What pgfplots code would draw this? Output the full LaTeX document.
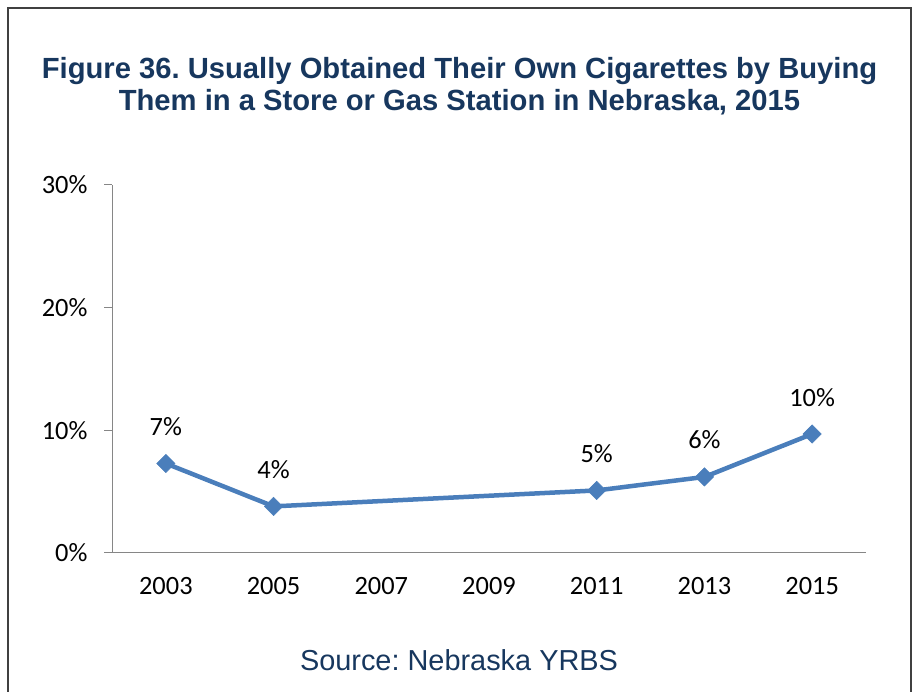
\documentclass[border=0pt]{standalone}
\usepackage{pgfplots}
\pgfplotsset{compat=1.18}
\usepackage{fontspec}
\setmainfont{Carlito}
\newfontfamily\arial{Liberation Sans}
\definecolor{titleblue}{HTML}{17375E}
\definecolor{lineblue}{HTML}{4A7EBB}
\definecolor{axgray}{HTML}{868686}
\frenchspacing
\begin{document}
\begin{tikzpicture}[x=1bp,y=1bp]
\path[use as bounding box] (0,0) rectangle (919,692);
\draw[line width=2bp, black!75] (8,0) -- (8,684) -- (911,684) -- (911,0);
\node[font=\arial\bfseries\fontsize{29.3}{32.5}\selectfont, text=titleblue, align=center] at (459.5,606) {Figure 36. Usually Obtained Their Own Cigarettes by Buying\\Them in a Store or Gas Station in Nebraska, 2015};
\node[font=\arial\fontsize{29}{33}\selectfont, text=titleblue] at (459,32) {Source: Nebraska YRBS};
\begin{axis}[
  at={(112bp,139bp)}, anchor=south west,
  scale only axis, width=754bp, height=368bp,
  xmin=-0.5, xmax=6.5, ymin=0, ymax=30,
  axis lines=left,
  axis line style={-, draw=axgray, line width=1bp},
  xtick={0,1,2,3,4,5,6},
  xticklabels={2003,2005,2007,2009,2011,2013,2015},
  x tick style={draw=none},
  ytick={0,10,20,30},
  yticklabels={0\%,10\%,20\%,30\%},
  y tick style={draw=axgray, line width=1bp},
  tick align=outside, major tick length=8bp,
  ticklabel style={font=\fontsize{26.5}{29}\selectfont, text=black},
  xticklabel style={yshift=-13bp},
  yticklabel style={xshift=-13bp},
  clip=false,
]
\addplot[color=lineblue, line width=4.5bp, mark=square*,
  mark options={rotate=45, solid, fill=lineblue, draw=lineblue, line width=0.5bp},
  mark size=6.5bp,
  point meta=explicit symbolic,
  nodes near coords,
  every node near coord/.append style={anchor=base, yshift=28bp, font=\fontsize{26.5}{29}\selectfont, text=black},
] coordinates {
  (0,7.3) [7\%]
  (1,3.8) [4\%]
  (4,5.1) [5\%]
  (5,6.2) [6\%]
  (6,9.7) [10\%]
};
\end{axis}
\end{tikzpicture}
\end{document}
